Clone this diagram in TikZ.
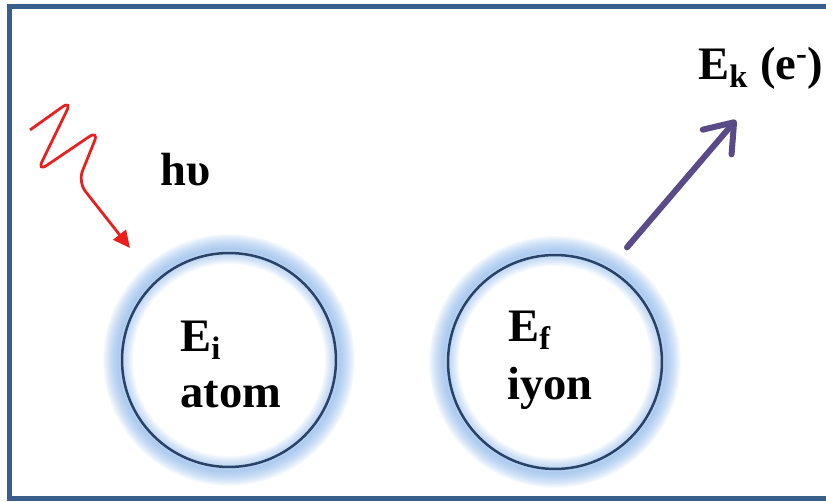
\documentclass[tikz,border=0pt]{standalone}
\usepackage{fontspec}
\setmainfont{Liberation Serif}
\usetikzlibrary{arrows.meta}
\definecolor{framecol}{RGB}{58,94,140}
\definecolor{ringcol}{RGB}{40,66,104}
\definecolor{glowcol}{RGB}{120,170,230}
\definecolor{photoncol}{RGB}{235,30,30}
\definecolor{electroncol}{RGB}{90,74,136}

\begin{document}
\begin{tikzpicture}[
    x=0.02cm, y=-0.02cm,
    particle/.style={circle, draw=ringcol, line width=0.05cm, minimum size=4.28cm, inner sep=0pt},
    label/.style={font=\fontsize{26.5}{30}\selectfont\bfseries, inner sep=0pt, anchor=base west},
    wave/.style={draw=photoncol, line width=0.055cm, rounded corners=0.24cm, -{Triangle[length=0.34cm, width=0.32cm]}},
    emit/.style={draw=electroncol, line width=0.12cm, line cap=round, -{Straight Barb[length=0.52cm, width=0.76cm, round]}},
    glow/.style={draw=glowcol}
]
    \useasboundingbox (0,0) rectangle (826,502);
    % Frame
    \draw[framecol, line width=0.1cm] (830,6.5) -- (9.5,6.5) -- (9.5,498.5) -- (830,498.5);
    % Glow
    \foreach \cx/\cy in {229/360, 555/362}
        \foreach \w in {2,4,...,30}
            \draw[glow, opacity=0.06, line width=\w*0.02cm] (\cx,\cy) circle (111);
    % Particles
    \node[particle] (atom) at (229,360) {};
    \node[particle] (ion) at (555,362) {};
    % Labels
    \node[label] (ei) at (180,352) {E\textsubscript{i}};
    \node[label] (atomlbl) at (180,408) {atom};
    \node[label] (ef) at (508,342) {E\textsubscript{f}};
    \node[label] (ionlbl) at (507,400) {iyon};
    \node[label] (hv) at (160,186) {hυ};
    \node[label] (ek) at (698,80) {E\textsubscript{k} (e\textsuperscript{-})};
    % Photon
    \coordinate (photonStart) at (30,130);
    \coordinate (photonTip) at (130,248);
    \draw[wave] (photonStart) -- (72,100) -- (37,172) -- (99,130) -- (78,182) -- (photonTip);
    % Electron
    \coordinate (electronTip) at (736,120);
    \draw[emit, shorten <=0.55cm] (ion.60) -- (electronTip);
\end{tikzpicture}
\end{document}
